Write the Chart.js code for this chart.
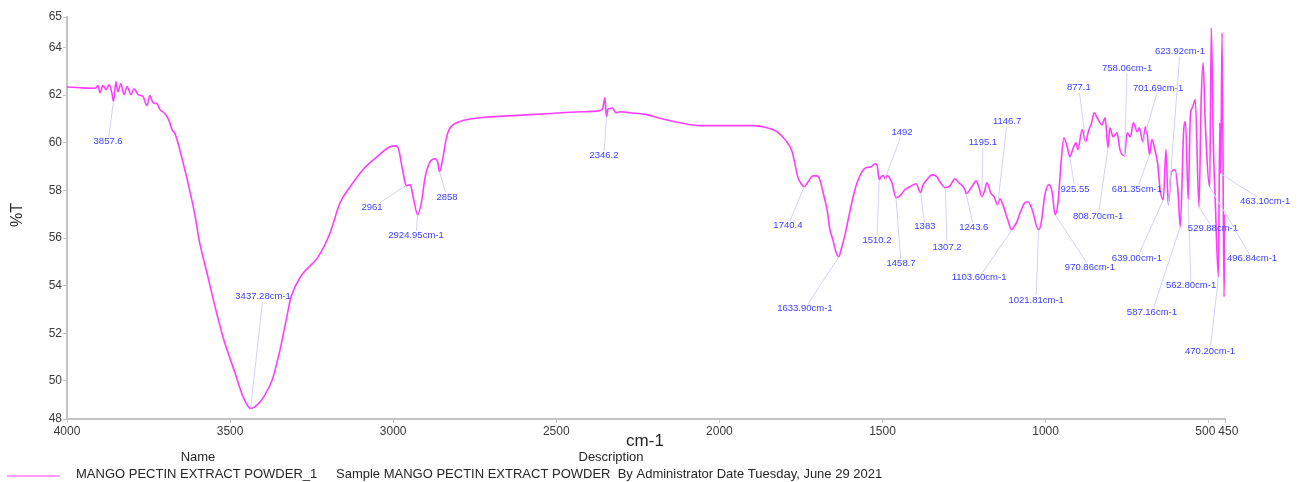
<!DOCTYPE html>
<html>
<head>
<meta charset="utf-8">
<title>MANGO PECTIN EXTRACT POWDER - FTIR</title>
<script src="https://cdn.jsdelivr.net/npm/chart.js@4.4.1/dist/chart.umd.min.js"></script>
<style>
  html, body { margin: 0; padding: 0; background: #ffffff; }
  #wrap { width: 1302px; height: 482px; position: relative; }
  canvas { display: block; }
</style>
</head>
<body>
<div id="wrap"><canvas id="ftir" width="1302" height="482"></canvas></div>
<script>
// Spectrum: wavenumber (cm-1) and transmittance (%T)
const wavenumbers = [
  4000, 3960, 3914, 3905, 3899, 3890, 3880, 3871, 3862, 3857.6, 3850, 3844, 3835, 3825, 3816, 3804, 3795, 3782,
  3767, 3755, 3746, 3736, 3724, 3715, 3706, 3693, 3687, 3678, 3669, 3660, 3648, 3635, 3623, 3608, 3595, 3571,
  3546, 3519, 3485, 3460, 3437.28, 3417, 3399, 3371, 3347, 3328, 3313, 3280, 3230, 3194, 3163, 3132, 3093, 3050,
  3010, 2994, 2985, 2973, 2964, 2961, 2948, 2939, 2924.95, 2912, 2902, 2887, 2872, 2863, 2858, 2847, 2838, 2829,
  2811, 2786, 2734, 2633, 2529, 2427, 2366, 2357, 2351, 2346.2, 2342, 2336, 2329, 2317, 2305, 2274, 2222, 2182,
  2121, 2060, 1977, 1897, 1854, 1823, 1799, 1777, 1768, 1759, 1747, 1740.4, 1728, 1713, 1701, 1692, 1682, 1670,
  1661, 1652, 1643, 1633.9, 1627, 1615, 1602, 1590, 1578, 1563, 1551, 1535, 1523, 1517, 1510.2, 1504, 1497, 1492,
  1486, 1471, 1458.7, 1446, 1431, 1416, 1397, 1383, 1377, 1364, 1348, 1333, 1324, 1307.2, 1293, 1278, 1266, 1247,
  1243.6, 1226, 1213, 1204, 1195.1, 1186, 1180, 1167, 1158, 1146.7, 1140, 1131, 1118, 1103.6, 1097, 1088, 1078,
  1066, 1054, 1042, 1021.81, 1014, 1002, 990, 980, 970.86, 962, 953, 944, 934, 925.55, 916, 907, 901, 888, 877.1,
  869, 859, 851, 842, 827, 817.5, 808.7, 803, 793, 781, 772, 758.06, 750, 740, 731, 719, 713, 701.69, 694, 688,
  681.35, 674, 665, 656, 649, 639, 631, 623.92, 615, 603, 594, 587.16, 577, 571, 562.8, 556, 550, 541, 529.88,
  523, 517, 511, 496.84, 492, 486, 480, 470.2, 466, 463.1, 459, 453, 450
];
const transmittance = [
  62.34, 62.31, 62.29, 62.40, 62.10, 62.40, 62.23, 62.44, 62.06, 61.73, 62.56, 62.14, 62.48, 62.02, 62.36, 62.02, 62.27, 62.02,
  61.94, 61.56, 61.98, 61.68, 61.64, 61.39, 61.30, 61.09, 60.92, 60.55, 60.38, 60.00, 59.37, 58.66, 57.94, 56.98, 55.92, 54.54,
  53.11, 51.72, 50.34, 49.33, 48.84, 48.99, 49.29, 50.04, 51.30, 52.56, 53.53, 54.45, 55.21, 56.20, 57.48, 58.15, 58.87, 59.41,
  59.83, 59.87, 59.79, 58.99, 58.36, 58.20, 58.24, 57.73, 56.98, 57.61, 58.57, 59.20, 59.33, 59.16, 58.78, 59.41, 60.13, 60.55,
  60.80, 60.93, 61.05, 61.14, 61.22, 61.30, 61.35, 61.47, 61.89, 61.09, 61.40, 61.43, 61.47, 61.26, 61.30, 61.26, 61.18, 61.03,
  60.84, 60.72, 60.72, 60.72, 60.63, 60.46, 60.13, 59.62, 59.08, 58.53, 58.24, 58.15, 58.36, 58.61, 58.61, 58.45, 57.90, 57.19,
  56.34, 55.92, 55.42, 55.21, 55.50, 56.13, 56.98, 57.73, 58.32, 58.78, 58.95, 58.99, 59.12, 59.08, 58.45, 58.57, 58.62, 58.49,
  58.62, 58.32, 57.69, 57.78, 58.03, 58.15, 58.28, 57.90, 58.19, 58.45, 58.65, 58.57, 58.36, 58.11, 58.19, 58.49, 58.32, 58.03,
  57.86, 58.15, 58.40, 58.11, 57.73, 58.03, 58.32, 57.86, 57.73, 57.40, 57.65, 57.40, 56.85, 56.34, 56.47, 56.68, 57.06,
  57.44, 57.52, 57.23, 56.34, 56.60, 57.82, 58.24, 57.94, 56.98, 57.48, 59.08, 60.21, 59.83, 59.41, 59.75, 60.00, 59.71, 60.55, 60.04,
  60.46, 60.84, 61.26, 61.05, 60.76, 61.05, 59.79, 60.63, 60.25, 60.42, 59.71, 59.45, 60.42, 60.25, 60.84, 60.46, 60.63, 60.04, 60.67, 60.30,
  59.50, 60.13, 59.71, 59.08, 58.03, 57.61, 59.71, 57.40, 58.78, 58.87, 57.94, 56.47, 60.42, 60.88, 57.61, 61.18, 61.47, 61.81, 57.31,
  61.81, 63.36, 60.97, 58.15, 64.83, 60.13, 57.61, 54.37, 60.84, 58.70, 64.62, 53.53, 57.00
];

// Axis ticks
const xTickValues = [4000, 3500, 3000, 2500, 2000, 1500, 1000, 500, 450];
const xTickLabels = ['4000', '3500', '3000', '2500', '2000', '1500', '1000', '500', '450'];
const yTickValues = [48.4, 50, 52, 54, 56, 58, 60, 62, 64, 65.28];
const yTickLabels = ['48', '50', '52', '54', '56', '58', '60', '62', '64', '65'];

// Peak picks and their label texts
const peakWavenumbers = [3857.6, 3437.28, 2961, 2924.95, 2858, 2346.2, 1740.4, 1633.9, 1510.2, 1492, 1458.7, 1383,
  1307.2, 1243.6, 1195.1, 1146.7, 1103.6, 1021.81, 970.86, 925.55, 877.1, 808.7, 758.06, 701.69, 681.35, 639,
  623.92, 587.16, 562.8, 529.88, 496.84, 470.2, 463.1];
const peakTexts = ['3857.6', '3437.28cm-1', '2961', '2924.95cm-1', '2858', '2346.2', '1740.4', '1633.90cm-1', '1510.2',
  '1492', '1458.7', '1383', '1307.2', '1243.6', '1195.1', '1146.7', '1103.60cm-1', '1021.81cm-1', '970.86cm-1',
  '925.55', '877.1', '808.70cm-1', '758.06cm-1', '701.69cm-1', '681.35cm-1', '639.00cm-1', '623.92cm-1',
  '587.16cm-1', '562.80cm-1', '529.88cm-1', '496.84cm-1', '470.20cm-1', '463.10cm-1'];

// Where each peak label sits, in axis units [cm-1, %T]
const labelPlacement = [
  [3874, 60.04], [3399, 53.53], [3065, 57.27], [2930, 56.09], [2835, 57.69], [2354, 59.45], [1790, 56.51],
  [1738, 53.03], [1517, 55.92], [1440, 60.42], [1443, 54.92], [1370, 56.47], [1302, 55.59], [1220, 56.43],
  [1192, 60.00], [1118, 60.88], [1204, 54.33], [1029, 53.40], [864, 54.75], [910, 58.03], [898, 62.31],
  [839, 56.89], [750, 63.11], [655, 62.27], [720, 58.03], [720, 55.13], [588, 63.82], [674, 52.86],
  [554, 53.99], [487, 56.39], [367, 55.13], [496, 51.22], [327, 57.52]
];

const seriesName = 'MANGO PECTIN EXTRACT POWDER_1';
const seriesDescription = 'Sample MANGO PECTIN EXTRACT POWDER  By Administrator Date Tuesday, June 29 2021';

const FONT = '"Liberation Sans", Arial, Helvetica, sans-serif';
const LINE_COLOR = '#ff3dff';

// Peak labels with leader lines to the spectrum
const peakLabels = {
  id: 'peakLabels',
  afterDatasetsDraw(chart) {
    const { ctx } = chart;
    const xs = chart.scales.x, ys = chart.scales.y;
    ctx.save();
    ctx.font = '9.5px ' + FONT;
    ctx.textAlign = 'center';
    ctx.textBaseline = 'middle';
    peakWavenumbers.forEach((wn, i) => {
      const idx = wavenumbers.indexOf(wn);
      if (idx < 0) return;
      const px = xs.getPixelForValue(wn);
      const py = ys.getPixelForValue(transmittance[idx]);
      const cx = xs.getPixelForValue(labelPlacement[i][0]);
      const cy = ys.getPixelForValue(labelPlacement[i][1]);
      const text = peakTexts[i];
      const hw = ctx.measureText(text).width / 2 + 1;
      const hh = 5;
      const dx = px - cx, dy = py - cy;
      const t = Math.min(dx ? hw / Math.abs(dx) : Infinity, dy ? hh / Math.abs(dy) : Infinity, 1);
      ctx.strokeStyle = '#d2d2f5';
      ctx.lineWidth = 1;
      ctx.beginPath();
      ctx.moveTo(cx + dx * t, cy + dy * t);
      ctx.lineTo(px, py);
      ctx.stroke();
      ctx.fillStyle = '#4040ff';
      ctx.fillText(text, cx, cy);
    });
    ctx.restore();
  }
};

// Axis titles and the sample legend underneath
const frameText = {
  id: 'frameText',
  afterDraw(chart) {
    const { ctx } = chart;
    ctx.save();
    ctx.fillStyle = '#262626';
    ctx.textBaseline = 'middle';

    ctx.save();
    ctx.translate(18, 215);
    ctx.rotate(-Math.PI / 2);
    ctx.textAlign = 'center';
    ctx.font = '16px ' + FONT;
    ctx.fillText('%T', 0, 0);
    ctx.restore();

    ctx.textAlign = 'center';
    ctx.font = '17px ' + FONT;
    ctx.fillText('cm-1', 645, 441);

    ctx.font = '13px ' + FONT;
    ctx.fillText('Name', 198, 457);
    ctx.fillText('Description', 611, 457);

    ctx.strokeStyle = LINE_COLOR;
    ctx.lineWidth = 1.2;
    ctx.beginPath();
    ctx.moveTo(7, 476);
    ctx.lineTo(60, 476);
    ctx.stroke();

    ctx.textAlign = 'left';
    ctx.fillText(seriesName, 76, 474);
    ctx.fillText(seriesDescription, 336, 474);
    ctx.restore();
  }
};

const points = wavenumbers.map((w, i) => ({ x: w, y: transmittance[i] }));

new Chart(document.getElementById('ftir'), {
  type: 'line',
  data: {
    datasets: [{
      label: seriesName,
      data: points,
      borderColor: LINE_COLOR,
      borderWidth: 1.6,
      pointRadius: 0,
      fill: false,
      cubicInterpolationMode: 'monotone'
    }]
  },
  options: {
    responsive: false,
    devicePixelRatio: 1,
    animation: false,
    layout: { padding: { top: 17, right: 77, bottom: 0, left: 0 } },
    plugins: { legend: { display: false }, tooltip: { enabled: false } },
    scales: {
      x: {
        type: 'linear',
        reverse: true,
        min: 450,
        max: 4000,
        afterBuildTicks: (s) => { s.ticks = xTickValues.map(v => ({ value: v })); },
        afterFit: (s) => { s.height = 63; },
        ticks: {
          autoSkip: false,
          maxRotation: 0,
          padding: 1,
          color: '#3a3a3a',
          font: { family: FONT, size: 12 },
          callback: (v, i) => {
            const label = xTickLabels[i];
            if (label === '500') return label + '  ';
            if (label === '450') return '  ' + label;
            return label;
          }
        },
        grid: { display: true, drawOnChartArea: false, drawTicks: true, tickLength: 4, color: '#c4c4c4' },
        border: { display: true, color: '#c4c4c4', width: 2 }
      },
      y: {
        type: 'linear',
        min: 48.4,
        max: 65.28,
        afterBuildTicks: (s) => { s.ticks = yTickValues.map(v => ({ value: v })); },
        afterFit: (s) => { s.width = 67; },
        ticks: {
          autoSkip: false,
          padding: 1,
          color: '#3a3a3a',
          font: { family: FONT, size: 12 },
          callback: (v, i) => yTickLabels[i]
        },
        grid: { display: true, drawOnChartArea: false, drawTicks: true, tickLength: 4, color: '#c4c4c4' },
        border: { display: true, color: '#c4c4c4', width: 2 }
      }
    }
  },
  plugins: [peakLabels, frameText]
});
</script>
</body>
</html>
